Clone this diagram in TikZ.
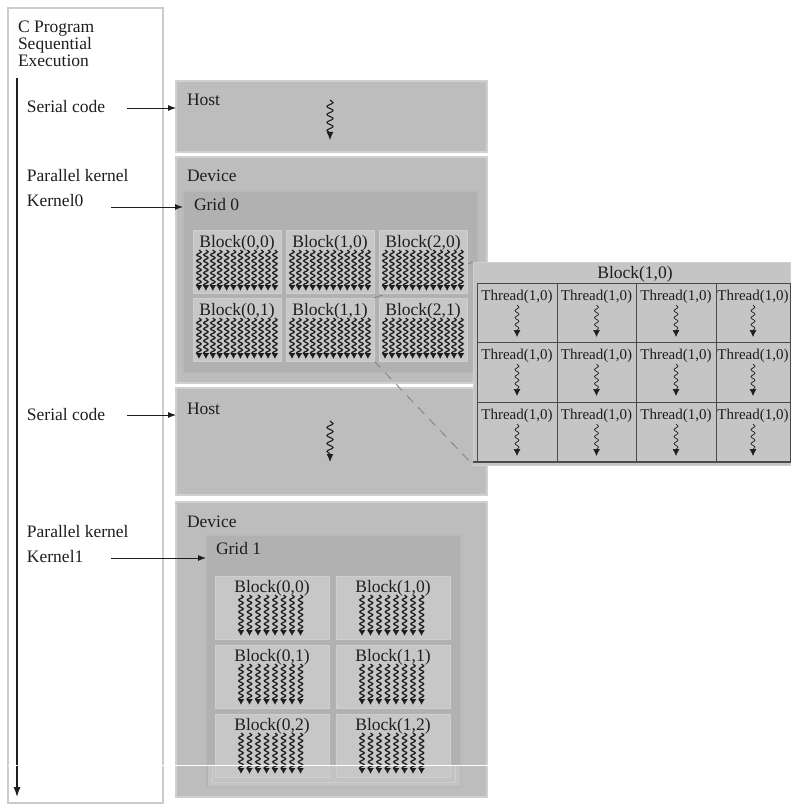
\documentclass[tikz,border=0pt]{standalone}
\usepackage{fontspec}
\setmainfont{Liberation Serif}
\usetikzlibrary{arrows.meta,decorations.pathmorphing}
\pgfdeclarelayer{bg}
\pgfdeclarelayer{mid}
\pgfsetlayers{bg,mid,main}
\definecolor{bfill}{HTML}{BDBDBD}
\definecolor{bedge}{HTML}{D0D0D0}
\definecolor{gfill}{HTML}{B1B1B1}
\definecolor{gedge}{HTML}{B9B9B9}
\definecolor{kfill}{HTML}{C7C7C7}
\definecolor{kedge}{HTML}{CFCFCF}
\definecolor{pfill}{HTML}{C5C5C5}
\definecolor{lgray}{HTML}{CCCCCC}
\definecolor{tline}{HTML}{4A4A4A}
\definecolor{ink}{HTML}{1E1E1E}
\definecolor{dline}{HTML}{808080}
\definecolor{band}{HTML}{C3C3C3}
\begin{document}
\begin{tikzpicture}[x=1pt,y=-1pt,
  every node/.style={inner sep=0pt,outer sep=0pt},
  box/.style={draw=bedge,fill=bfill,line width=1.5pt,anchor=north west},
  gridbox/.style={draw=gedge,fill=gfill,line width=1.2pt,anchor=north west},
  blk/.style={draw=kedge,fill=kfill,line width=1pt,anchor=north west},
  panel/.style={draw=bedge,fill=pfill,line width=1pt,anchor=north west},
  cell/.style={draw=tline,line width=0.8pt,anchor=north west},
  lbl/.style={font=\fontsize{17.5}{17.5}\selectfont,anchor=base west,text=ink},
  btxt/.style={font=\fontsize{17.5}{17.5}\selectfont,anchor=base,text=ink},
  ttxt/.style={font=\fontsize{15}{15}\selectfont,anchor=base,text=ink},
  arr/.style={draw=ink,line width=0.9pt,-{Latex[length=8pt,width=6pt]}},
  wigh/.style={draw=ink,decorate,decoration={snake,amplitude=3pt,segment length=8pt,post length=5pt},line width=1.1pt,-{Latex[length=8pt,width=7pt]}},
  wigb/.style={draw=ink,decorate,decoration={snake,amplitude=2.2pt,segment length=6pt,post length=4pt},line width=1.3pt,-{Latex[length=6pt,width=7pt]}},
  wigt/.style={draw=ink,decorate,decoration={snake,amplitude=2pt,segment length=7pt,post length=5pt},line width=0.7pt,-{Latex[length=7pt,width=7pt]}},
  link/.style={draw=dline,line width=0.8pt,dash pattern=on 9pt off 7pt}
]
\useasboundingbox (0,0) rectangle (790,805);

\begin{pgfonlayer}{bg}
\fill[white] (0,0) rectangle (790,805);
\node[box,minimum width=311pt,minimum height=71pt] (host1) at (176,81) {};
\node[box,minimum width=311pt,minimum height=226pt] (dev1) at (176,157) {};
\node[gridbox,minimum width=295pt,minimum height=182pt] (grid0) at (183,191) {};
\node[box,minimum width=311pt,minimum height=107pt] (host2) at (176,388) {};
\node[box,minimum width=311pt,minimum height=295pt] (dev2) at (176,502) {};
\node[gridbox,minimum width=255pt,minimum height=252pt] (grid1) at (206,535) {};
\fill[band] (207.5,766) rectangle (459.5,785.5);
\draw[draw=kedge,line width=1pt] (212,766) -- (212,782) -- (455,782) -- (455,766);
\end{pgfonlayer}

% left program column
\node[draw=lgray,fill=white,line width=1.5pt,anchor=north west,minimum width=155pt,minimum height=795pt] (prog) at (8,8) {};
\node[lbl] (t1) at (18,33) {C Program};
\node[lbl] (t2) at (18,50) {Sequential};
\node[lbl] (t3) at (18,67) {Execution};
\coordinate (seqtop) at (17,78);
\coordinate (seqbot) at (17,797);
\draw[draw=ink,line width=1.2pt,-{Latex[length=10pt,width=7pt]}] (seqtop) -- (seqbot);

\node[lbl] (sc1) at (27,113) {Serial code};
\node[lbl] (pk1) at (27,182) {Parallel kernel};
\node[lbl] (k0) at (27,207) {Kernel0};
\node[lbl] (sc2) at (27,420) {Serial code};
\node[lbl] (pk2) at (27,537) {Parallel kernel};
\node[lbl] (k1) at (27,562) {Kernel1};

\node[lbl] (h1t) at (187,106) {Host};
\node[lbl] (d1t) at (187,182) {Device};
\node[lbl] (g0t) at (194,211) {Grid 0};
\node[lbl] (h2t) at (187,414) {Host};
\node[lbl] (d2t) at (187,527) {Device};
\node[lbl] (g1t) at (216,554) {Grid 1};

% arrows from program to boxes
\coordinate (a1) at (127,108);
\draw[arr] (a1) -- (a1 -| host1.west);
\coordinate (a2) at (111,207);
\draw[arr] (a2) -- (a2 -| grid0.west);
\coordinate (a3) at (127,415);
\draw[arr] (a3) -- (a3 -| host2.west);
\coordinate (a4) at (111,558);
\draw[arr] (a4) -- (a4 -| grid1.west);

% host threads
\coordinate (hw1a) at (330,100);
\coordinate (hw1b) at (330,140);
\draw[wigh] (hw1a) -- (hw1b);
\coordinate (hw2a) at (330,421);
\coordinate (hw2b) at (330,462);
\draw[wigh] (hw2a) -- (hw2b);

% Grid 0 blocks
\foreach \c/\r/\x/\y in {0/0/193/230,1/0/286/230,2/0/379/230,0/1/193/298,1/1/286/298,2/1/379/298}{
  \node[blk,minimum width=88pt,minimum height=63pt] (ga\c\r) at (\x,\y) {};
  \node[btxt] at (\x+44,\y+17) {Block(\c,\r)};
  \foreach \i in {0,...,11}{
    \draw[wigb] (\x+6+\i*6.9,\y+20) -- (\x+6+\i*6.9,\y+61);
  }
}

% Grid 1 blocks
\foreach \c/\r/\x/\y in {0/0/215/576,1/0/336/576,0/1/215/645,1/1/336/645,0/2/215/714,1/2/336/714}{
  \node[blk,minimum width=114pt,minimum height=63pt] (gb\c\r) at (\x,\y) {};
  \node[btxt] at (\x+57,\y+16) {Block(\c,\r)};
  \foreach \i in {0,...,7}{
    \draw[wigb] (\x+26+\i*8.5,\y+19) -- (\x+26+\i*8.5,\y+60);
  }
}

% expanded Block(1,0)
\node[panel,minimum width=317pt,minimum height=203pt] (pan) at (473,262) {};
\node[btxt] (pant) at (635,278) {Block(1,0)};
\foreach \cx/\cw [count=\ci] in {477/80,557/79,636/80,716/74}{
  \foreach \ry/\rh [count=\ri] in {283/59,342/60,402/60}{
    \node[cell,minimum width=\cw pt,minimum height=\rh pt] (th\ci\ri) at (\cx,\ry) {};
    \node[ttxt] at (\cx+\cw/2,\ry+17) {Thread(1,0)};
    \draw[wigt] (\cx+\cw/2,\ry+22) -- (\cx+\cw/2,\ry+54);
  }
}
\draw[draw=tline,line width=2pt] (pan.south west |- th13.south) -- (pan.south east |- th13.south);

% links from the block to its expanded view
\begin{pgfonlayer}{mid}
\draw[link] (ga11.north east) -- (pan.north west);
\draw[link] (ga11.south east) -- (pan.south west);
\end{pgfonlayer}

% scan seam
\draw[white,line width=0.8pt] (8,765.5) -- (489,765.5);
\end{tikzpicture}
\end{document}
